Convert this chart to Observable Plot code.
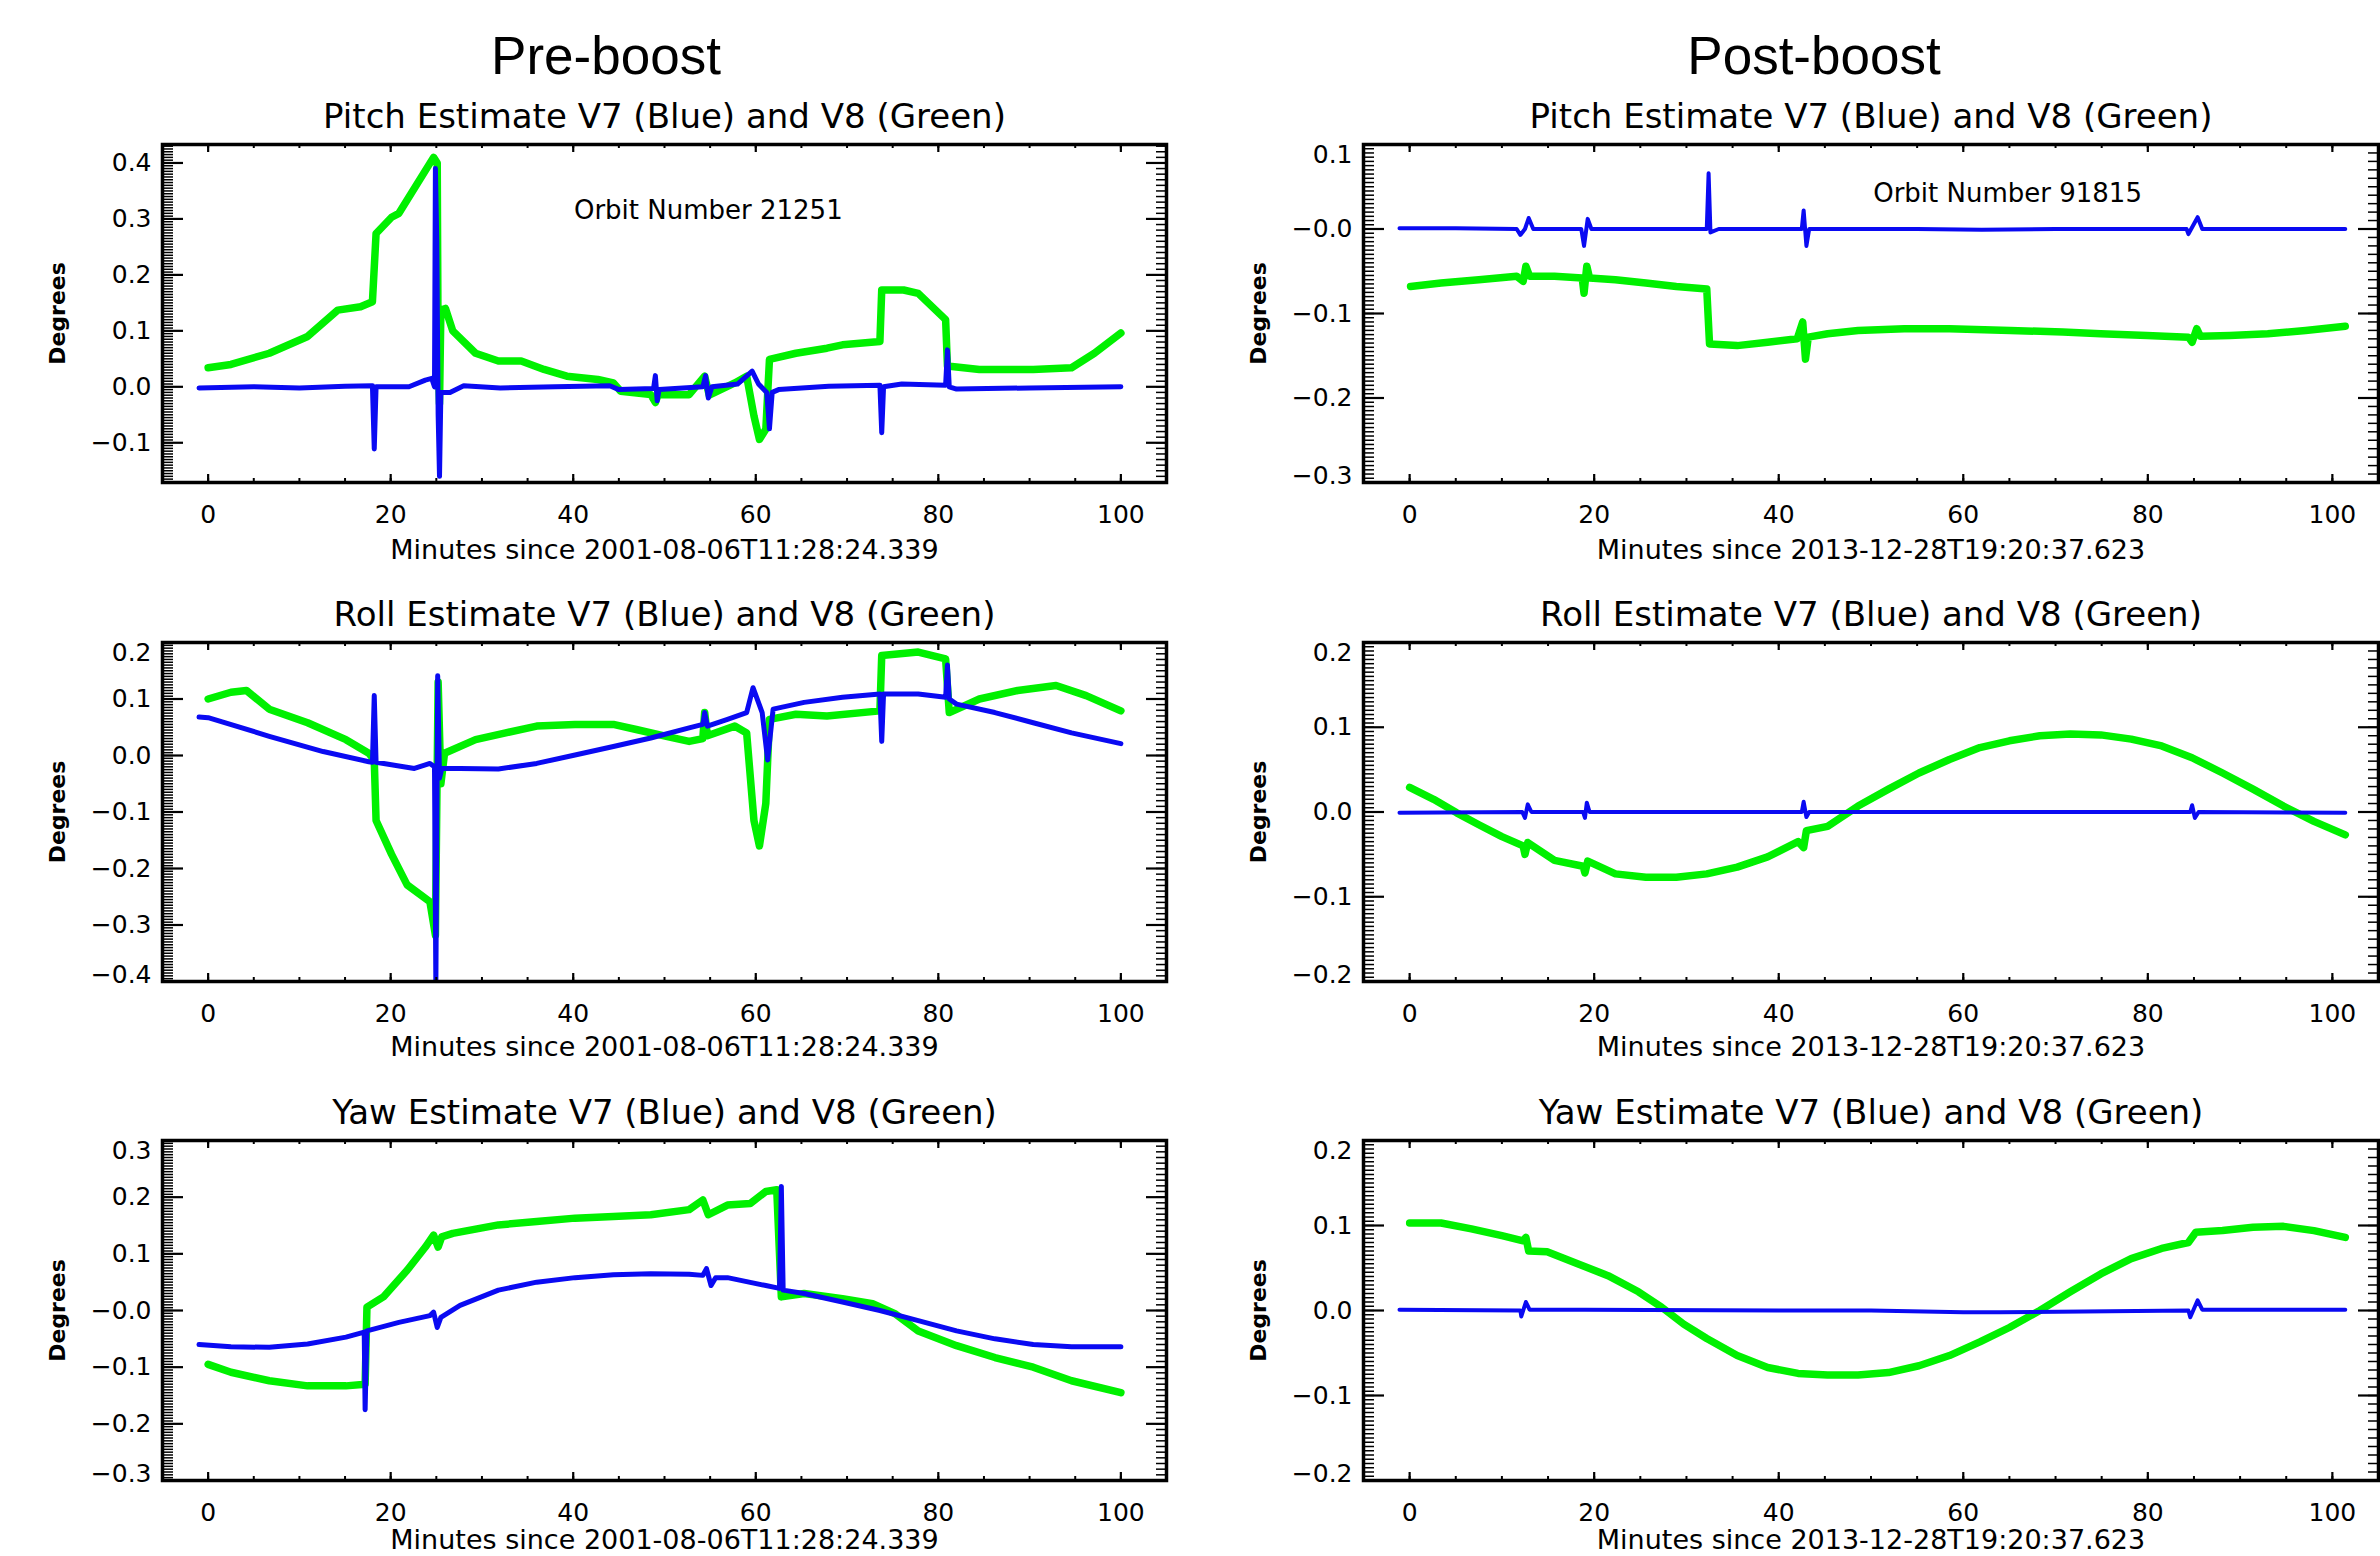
<!DOCTYPE html>
<html><head><meta charset="utf-8">
<script src="https://cdn.jsdelivr.net/npm/d3@7"></script>
<script src="https://cdn.jsdelivr.net/npm/@observablehq/plot@0.6"></script>
<style>
html,body{margin:0;padding:0;background:#fff;overflow:hidden;}
#root{position:relative;width:2380px;height:1556px;background:#fff;}
.panel{position:absolute;}
.head{position:absolute;font-family:"Liberation Sans",Arial,sans-serif;font-size:53px;line-height:53px;white-space:nowrap;transform:translateX(-50%);color:#000;}
</style></head><body><div id="root"></div>
<script>
// ---------- data (minutes, degrees) ----------
const prePitchV7 = [[-1,-0.002],[5,0.0],[10,-0.002],[15,0.001],[18.0,0.002],[18.2,-0.111],[18.4,0.0],[22,0.0],[23.8,0.012],[24.5,0.015],[24.8,0.0],[24.9,0.39],[25.05,0.26],[25.2,-0.05],[25.35,-0.16],[25.5,-0.01],[26.5,-0.01],[28,0.002],[32,-0.002],[38,0.0],[44,0.002],[45,-0.005],[48.8,-0.003],[49,0.02],[49.2,-0.025],[49.4,-0.005],[54.2,0.0],[54.5,0.02],[54.8,-0.02],[55.2,0.0],[58,0.005],[59.6,0.028],[60.3,0.005],[61.2,-0.01],[61.5,-0.075],[61.8,-0.01],[62.5,-0.005],[68,0.001],[73.6,0.003],[73.8,-0.082],[74,0.0],[76,0.005],[80.8,0.003],[81,0.066],[81.2,0.0],[82,-0.004],[90,-0.002],[100,0.0]];
const prePitchV8 = [[0,0.034],[2.5,0.04],[6.7,0.06],[10.9,0.09],[14.2,0.137],[16.7,0.143],[18,0.152],[18.4,0.274],[20.1,0.303],[20.9,0.31],[24.7,0.41],[25.1,0.40],[25.2,0.05],[25.35,-0.03],[25.5,0.137],[26,0.14],[26.8,0.10],[29.3,0.06],[31.8,0.046],[34.3,0.046],[36.8,0.031],[39.3,0.019],[42.7,0.013],[44.4,0.007],[45.2,-0.008],[48.5,-0.014],[49,-0.028],[49.3,-0.014],[52.7,-0.014],[54.4,0.019],[54.9,-0.015],[57.7,0.007],[59,0.019],[59.8,-0.052],[60.4,-0.094],[61.1,-0.076],[61.5,0.049],[64.4,0.06],[67.8,0.069],[69.5,0.075],[73.6,0.081],[73.8,0.173],[76.2,0.173],[77.8,0.167],[80.8,0.12],[81,0.037],[84.5,0.031],[90.4,0.031],[94.6,0.034],[97.1,0.06],[100,0.096]];

const preRollV7 = [[-1,0.068],[0,0.067],[6.7,0.034],[12.6,0.007],[17.6,-0.011],[18.0,-0.012],[18.2,0.106],[18.4,-0.012],[22.6,-0.023],[24.3,-0.014],[24.8,-0.02],[24.95,-0.41],[25.15,0.141],[25.35,-0.04],[25.6,-0.023],[27.6,-0.023],[31.8,-0.024],[36,-0.014],[40.2,0.001],[44.4,0.016],[48.5,0.031],[52.7,0.049],[54.2,0.055],[54.4,0.076],[54.7,0.052],[56.9,0.064],[59,0.076],[59.7,0.12],[60.7,0.076],[61.3,-0.008],[61.9,0.082],[65.3,0.094],[69.5,0.103],[73.6,0.109],[73.8,0.025],[74,0.109],[77.8,0.109],[80.8,0.103],[81,0.16],[81.2,0.1],[82,0.091],[86.2,0.076],[90.4,0.058],[94.6,0.04],[100,0.021]];
const preRollV8 = [[0,0.10],[2.5,0.112],[4.2,0.115],[6.7,0.082],[10.9,0.058],[15.1,0.028],[17.6,0.004],[18.2,-0.008],[18.4,-0.115],[20.1,-0.175],[21.8,-0.229],[24.3,-0.259],[24.9,-0.318],[25.2,0.13],[25.5,-0.05],[25.9,0.004],[29.3,0.028],[32.6,0.04],[36,0.052],[40.2,0.055],[44.4,0.055],[46.9,0.046],[50.2,0.034],[52.7,0.025],[54.2,0.03],[54.4,0.076],[54.7,0.035],[57.7,0.052],[59,0.04],[59.8,-0.115],[60.4,-0.16],[61.1,-0.085],[61.5,0.064],[64.4,0.073],[67.8,0.07],[73.6,0.079],[73.8,0.177],[77.8,0.183],[80.8,0.171],[81.2,0.076],[84.5,0.1],[88.7,0.115],[92.9,0.124],[96.2,0.106],[100,0.079]];

const preYawV7 = [[-1,-0.06],[2.5,-0.064],[6.7,-0.065],[10.9,-0.059],[15.1,-0.047],[17.1,-0.038],[17.2,-0.175],[17.3,-0.1],[17.4,-0.036],[20.9,-0.021],[24.3,-0.009],[24.7,-0.003],[25.1,-0.03],[25.5,-0.012],[27.6,0.009],[31.8,0.036],[36,0.05],[40.2,0.058],[44.4,0.063],[48.5,0.065],[52.7,0.064],[54.2,0.062],[54.6,0.074],[55.1,0.044],[55.6,0.058],[56.9,0.058],[61.1,0.044],[62.6,0.039],[62.8,0.219],[63,0.036],[65.3,0.03],[69.5,0.015],[73.6,0.0],[77.8,-0.018],[82,-0.036],[86.2,-0.05],[90.4,-0.06],[94.6,-0.064],[100,-0.064]];
const preYawV8 = [[0,-0.095],[2.5,-0.109],[6.7,-0.124],[10.9,-0.133],[15.1,-0.133],[17.2,-0.13],[17.4,0.006],[19.2,0.024],[21.8,0.071],[23.8,0.112],[24.7,0.133],[25.2,0.112],[25.6,0.13],[26.8,0.136],[31.8,0.151],[36,0.157],[40.2,0.163],[44.4,0.166],[48.5,0.169],[52.7,0.178],[54.2,0.195],[54.8,0.169],[56.9,0.186],[59.4,0.189],[61.1,0.21],[62.3,0.213],[62.8,0.024],[65.3,0.03],[69.5,0.021],[72.8,0.012],[75.3,-0.006],[77.8,-0.036],[82,-0.062],[86.2,-0.083],[90.4,-0.1],[94.6,-0.124],[100,-0.145]];

const postPitchV7 = [[-1.1,0.001],[5,0.001],[11.6,0.0],[12.0,-0.007],[12.5,0.0],[12.9,0.013],[13.4,0.0],[18.6,0.0],[18.9,-0.02],[19.3,0.012],[19.7,0.0],[32.2,0.0],[32.4,0.066],[32.6,-0.004],[33.5,0.0],[42.5,0.0],[42.7,0.022],[43,-0.02],[43.3,0.0],[55,0.0],[62,-0.001],[70,0.0],[84.2,0.0],[84.4,-0.006],[85.4,0.014],[85.9,0.0],[95,0.0],[101.4,0.0]];
const postPitchV8 = [[0.1,-0.068],[3.4,-0.064],[7.5,-0.06],[11.6,-0.056],[12.3,-0.062],[12.6,-0.044],[13,-0.056],[15.7,-0.056],[18.7,-0.058],[18.9,-0.076],[19.2,-0.044],[19.5,-0.058],[22.3,-0.06],[25.6,-0.064],[28.9,-0.068],[32.2,-0.071],[32.5,-0.136],[35.5,-0.138],[38.8,-0.134],[42,-0.13],[42.6,-0.11],[42.9,-0.154],[43.2,-0.128],[45.3,-0.124],[48.6,-0.12],[53.6,-0.118],[58.5,-0.118],[65.1,-0.12],[70.8,-0.122],[74.9,-0.124],[79.9,-0.126],[84.4,-0.128],[84.8,-0.134],[85.3,-0.118],[85.7,-0.127],[88.9,-0.126],[93,-0.124],[97.1,-0.12],[101.4,-0.115]];

const postRollV7 = [[-1.1,-0.001],[12.2,0],[12.5,-0.007],[12.8,0.009],[13.2,0],[18.8,0],[19,-0.007],[19.2,0.011],[19.5,0],[42.5,0],[42.7,0.012],[43,-0.006],[43.3,0],[84.6,0],[84.8,0.008],[85.1,-0.007],[85.5,0],[101.4,-0.001]];
const postRollV8 = [[0,0.029],[2.6,0.015],[5.1,-0.001],[7.5,-0.015],[10,-0.029],[12.3,-0.04],[12.5,-0.05],[12.8,-0.036],[15.7,-0.057],[18.8,-0.064],[19,-0.072],[19.3,-0.058],[22.3,-0.073],[25.6,-0.077],[28.9,-0.077],[32.2,-0.073],[35.5,-0.065],[38.8,-0.053],[42.1,-0.035],[42.7,-0.042],[43,-0.022],[45.3,-0.017],[48.6,0.007],[51.9,0.027],[55.2,0.046],[58.5,0.062],[61.8,0.076],[65,0.084],[68.3,0.09],[71.6,0.092],[74.9,0.091],[78.2,0.086],[81.5,0.078],[84.8,0.064],[88.1,0.046],[91.4,0.027],[94.7,0.007],[98,-0.011],[101.4,-0.027]];

const postYawV7 = [[-1.1,0.001],[12.0,0],[12.1,-0.007],[12.6,0.01],[13,0.001],[19,0.001],[40,0.0],[50,0.0],[60,-0.002],[64,-0.002],[84.4,0.0],[84.6,-0.008],[85.4,0.012],[85.9,0.001],[101.4,0.001]];
const postYawV8 = [[0,0.103],[3.4,0.103],[6.7,0.096],[10,0.088],[12.3,0.082],[12.6,0.086],[12.9,0.07],[14.9,0.069],[18.2,0.055],[21.5,0.041],[24.8,0.022],[27.3,0.004],[29.7,-0.016],[32.2,-0.033],[35.5,-0.053],[38.8,-0.067],[42.1,-0.074],[45.3,-0.076],[48.6,-0.076],[51.9,-0.073],[55.2,-0.065],[58.5,-0.053],[61.8,-0.037],[65,-0.02],[68.3,0],[71.6,0.022],[74.9,0.043],[78.2,0.061],[81.5,0.073],[84.4,0.08],[85.2,0.092],[88.1,0.094],[91.4,0.098],[94.7,0.099],[98,0.094],[101.4,0.086]];

// axes
const xTicks = [0, 20, 40, 60, 80, 100];
const xDomain = [-5, 105];
const prePitchDomain = [-0.171, 0.433], prePitchTicks = [0.4, 0.3, 0.2, 0.1, 0.0, -0.1], prePitchLabels = ["0.4", "0.3", "0.2", "0.1", "0.0", "\u22120.1"];
const preRollDomain = [-0.4, 0.2], preRollTicks = [0.2, 0.1, 0.0, -0.1, -0.2, -0.3, -0.4], preRollLabels = ["0.2", "0.1", "0.0", "\u22120.1", "\u22120.2", "\u22120.3", "\u22120.4"];
const preYawDomain = [-0.3, 0.3], preYawTicks = [0.3, 0.2, 0.1, 0.0, -0.1, -0.2, -0.3], preYawLabels = ["0.3", "0.2", "0.1", "\u22120.0", "\u22120.1", "\u22120.2", "\u22120.3"];
const postPitchDomain = [-0.3, 0.1], postPitchTicks = [0.1, 0.0, -0.1, -0.2, -0.3], postPitchLabels = ["0.1", "\u22120.0", "\u22120.1", "\u22120.2", "\u22120.3"];
const postRollDomain = [-0.2, 0.2], postRollTicks = [0.2, 0.1, 0.0, -0.1, -0.2], postRollLabels = ["0.2", "0.1", "0.0", "\u22120.1", "\u22120.2"];
const postYawDomain = [-0.2, 0.2], postYawTicks = [0.2, 0.1, 0.0, -0.1, -0.2], postYawLabels = ["0.2", "0.1", "0.0", "\u22120.1", "\u22120.2"];

const titles = ["Pitch Estimate V7 (Blue) and V8 (Green)", "Roll Estimate V7 (Blue) and V8 (Green)", "Yaw Estimate V7 (Blue) and V8 (Green)"];
const preXLabel = "Minutes since 2001-08-06T11:28:24.339";
const postXLabel = "Minutes since 2013-12-28T19:20:37.623";
const preOrbit = {x: 54.8, y: 0.315, text: "Orbit Number 21251"};
const postOrbit = {x: 64.8, y: 0.042, text: "Orbit Number 91815"};
const columnHeads = ["Pre-boost", "Post-boost"];

// ---------- drawing ----------
const BLUE = "#0a0af2", GREEN = "#00f000";
const FONT = "DejaVu Sans";
const root = document.getElementById("root");

function panel(o) {
  const mT = 60, mB = 90;
  const frameW = o.width - o.mL - o.mR;
  const frameH = o.frameH;
  const [y0, y1] = o.yDomain;
  const e = 1e-7;
  const minorL = d3.range(Math.ceil(y0 / 0.005 - e), Math.floor(y1 / 0.005 + e) + 1).map(i => +(i * 0.005).toFixed(4));
  const minorR = d3.range(Math.ceil(y0 / 0.01 - e), Math.floor(y1 / 0.01 + e) + 1).map(i => +(i * 0.01).toFixed(4));
  const xMinor = d3.range(xDomain[0], xDomain[1] + 1, 5);
  const ticks = o.yTicks.map((v, i) => ({v, label: o.yLabels[i]}));
  const topT = ticks.filter(t => Math.abs(t.v - y1) < 1e-6);
  const botT = ticks.filter(t => Math.abs(t.v - y0) < 1e-6);
  const midT = ticks.filter(t => !topT.includes(t) && !botT.includes(t));
  const tickTxt = (data, dy) => Plot.text(data, {y: d => d.v, text: d => d.label, frameAnchor: "left", textAnchor: "end", lineAnchor: "middle", dx: -11, dy, fontSize: 25, fontFamily: FONT, fill: "black"});
  const chart = Plot.plot({
    width: o.width,
    height: mT + frameH + mB,
    marginLeft: o.mL, marginRight: o.mR, marginTop: mT, marginBottom: mB,
    style: {fontFamily: FONT, background: "white", overflow: "visible"},
    x: {domain: xDomain, axis: null},
    y: {domain: o.yDomain, axis: null},
    marks: [
      Plot.line(o.v8, {x: d => d[0], y: d => d[1], stroke: GREEN, strokeWidth: 7.5, strokeLinejoin: "round", clip: true}),
      Plot.line(o.v7, {x: d => d[0], y: d => d[1], stroke: BLUE, strokeWidth: o.v7Width, strokeLinejoin: "round", clip: true}),
      // left axis ticks (inward)
      Plot.tickY(minorL, {y: d => d, insetRight: frameW - 11, stroke: "black", strokeWidth: 1.5}),
      Plot.tickY(o.yTicks, {y: d => d, insetRight: frameW - 21, stroke: "black", strokeWidth: 2.2}),
      // right axis ticks (inward)
      Plot.tickY(minorR, {y: d => d, insetLeft: frameW - 10, stroke: "black", strokeWidth: 1.5}),
      Plot.tickY(o.yTicks, {y: d => d, insetLeft: frameW - 20, stroke: "black", strokeWidth: 2.2}),
      // bottom/top x ticks
      Plot.tickX(xMinor, {x: d => d, insetTop: frameH - 4, stroke: "black", strokeWidth: 2}),
      Plot.tickX(xTicks, {x: d => d, insetTop: frameH - 8, stroke: "black", strokeWidth: 2.2}),
      Plot.tickX(xMinor, {x: d => d, insetBottom: frameH - 4, stroke: "black", strokeWidth: 2}),
      Plot.tickX(xTicks, {x: d => d, insetBottom: frameH - 8, stroke: "black", strokeWidth: 2.2}),
      Plot.frame({stroke: "black", strokeWidth: 3.5}),
      tickTxt(midT, 0), tickTxt(topT, 10), tickTxt(botT, -7),
      Plot.text(xTicks, {x: d => d, text: d => String(d), frameAnchor: "bottom", lineAnchor: "middle", dy: 32, fontSize: 25, fontFamily: FONT, fill: "black"}),
      Plot.text([o.xLabel], {text: d => d, frameAnchor: "bottom", textAnchor: "middle", lineAnchor: "middle", dy: o.xLabelDy, fontSize: 27, fontFamily: FONT, fill: "black"}),
      Plot.text([o.title], {text: d => d, frameAnchor: "top", textAnchor: "middle", lineAnchor: "middle", dy: -27, fontSize: 34, fontFamily: FONT, fill: "black"}),
      Plot.text(["Degrees"], {text: d => d, frameAnchor: "left", textAnchor: "middle", lineAnchor: "middle", dx: -105, rotate: -90, fontSize: 22, fontWeight: "bold", fontFamily: FONT, fill: "black"}),
      o.orbit ? Plot.text([o.orbit], {x: d => d.x, y: d => d.y, text: d => d.text, fontSize: 26, fontFamily: FONT, fill: "black"}) : null
    ]
  });
  const div = document.createElement("div");
  div.className = "panel";
  div.style.left = o.left + "px";
  div.style.top = (o.frameTop - mT) + "px";
  div.appendChild(chart);
  root.appendChild(div);
}

const L = {left: 0, width: 1190, mL: 162, mR: 24, v7Width: 5};
const R = {left: 1190, width: 1190, mL: 173, mR: 2, v7Width: 4};
const rows = [{frameTop: 144, frameH: 338, xLabelDy: 68}, {frameTop: 642, frameH: 339, xLabelDy: 66}, {frameTop: 1140, frameH: 340, xLabelDy: 60}];

panel({...L, ...rows[0], yDomain: prePitchDomain, yTicks: prePitchTicks, yLabels: prePitchLabels, v7: prePitchV7, v8: prePitchV8, title: titles[0], xLabel: preXLabel, orbit: preOrbit});
panel({...L, ...rows[1], yDomain: preRollDomain, yTicks: preRollTicks, yLabels: preRollLabels, v7: preRollV7, v8: preRollV8, title: titles[1], xLabel: preXLabel});
panel({...L, ...rows[2], yDomain: preYawDomain, yTicks: preYawTicks, yLabels: preYawLabels, v7: preYawV7, v8: preYawV8, title: titles[2], xLabel: preXLabel});
panel({...R, ...rows[0], yDomain: postPitchDomain, yTicks: postPitchTicks, yLabels: postPitchLabels, v7: postPitchV7, v8: postPitchV8, title: titles[0], xLabel: postXLabel, orbit: postOrbit});
panel({...R, ...rows[1], yDomain: postRollDomain, yTicks: postRollTicks, yLabels: postRollLabels, v7: postRollV7, v8: postRollV8, title: titles[1], xLabel: postXLabel});
panel({...R, ...rows[2], yDomain: postYawDomain, yTicks: postYawTicks, yLabels: postYawLabels, v7: postYawV7, v8: postYawV8, title: titles[2], xLabel: postXLabel});

// column headings
[[columnHeads[0], 606], [columnHeads[1], 1814]].forEach(([t, cx]) => {
  const h = document.createElement("div");
  h.className = "head";
  h.textContent = t;
  h.style.left = cx + "px";
  h.style.top = "29px";
  root.appendChild(h);
});
</script>
</body></html>
